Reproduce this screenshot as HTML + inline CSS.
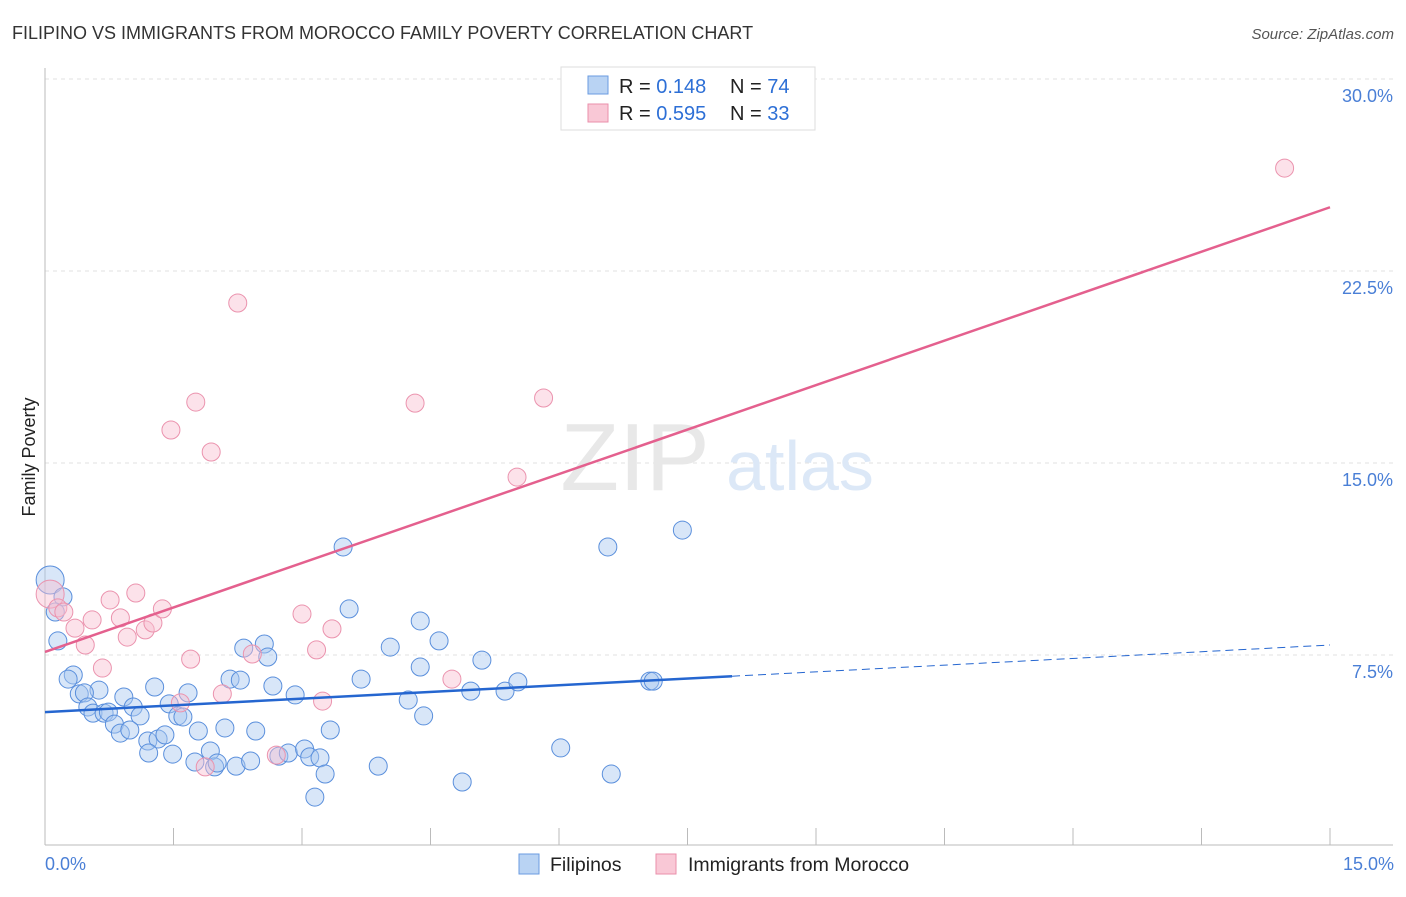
<!DOCTYPE html>
<html><head><meta charset="utf-8"><style>
body{margin:0;background:#fff;font-family:"Liberation Sans",sans-serif}
svg text{font-family:"Liberation Sans",sans-serif}
</style></head><body>
<svg width="1406" height="892" viewBox="0 0 1406 892" xmlns="http://www.w3.org/2000/svg">
<text x="12" y="39" font-size="18" fill="#333">FILIPINO VS IMMIGRANTS FROM MOROCCO FAMILY POVERTY CORRELATION CHART</text>
<text x="1394" y="39" font-size="15" fill="#555" font-style="italic" text-anchor="end">Source: ZipAtlas.com</text>
<g id="grid"></g>
<text x="635" y="490" font-size="96" fill="#e8e8e8" font-family="Liberation Serif" text-anchor="middle">ZIP</text>
<text x="800" y="490" font-size="70" fill="#dce8f7" text-anchor="middle">atlas</text>
<g id="marks"></g>
<text x="35" y="457" font-size="18" fill="#222" text-anchor="middle" transform="rotate(-90 35 457)">Family Poverty</text>
<text x="45" y="870" font-size="18" fill="#4a7fd6">0.0%</text>
<text x="1394" y="870" font-size="18" fill="#4a7fd6" text-anchor="end">15.0%</text>
<g>
<rect x="561" y="67" width="254" height="63" fill="#fff" stroke="#ddd"/>
<rect x="588" y="76" width="20" height="18" fill="#b9d3f3" stroke="#6a9be0"/>
<rect x="588" y="104" width="20" height="18" fill="#f9c8d6" stroke="#ea8fab"/>
<text x="619" y="93" font-size="20" fill="#222">R = <tspan fill="#2d6fd6">0.148</tspan><tspan x="730">N = </tspan><tspan fill="#2d6fd6">74</tspan></text>
<text x="619" y="120" font-size="20" fill="#222">R = <tspan fill="#2d6fd6">0.595</tspan><tspan x="730">N = </tspan><tspan fill="#2d6fd6">33</tspan></text>
</g>
<g>
<rect x="519" y="854" width="20" height="20" fill="#b9d3f3" stroke="#6a9be0"/>
<text x="550" y="871" font-size="19.5" fill="#222">Filipinos</text>
<rect x="656" y="854" width="20" height="20" fill="#f9c8d6" stroke="#ea8fab"/>
<text x="688" y="871" font-size="19.5" fill="#222">Immigrants from Morocco</text>
</g>
</svg>
<script>
const yTicks=[7.5,15,22.5,30];
const yTickLabels=["7.5%","15.0%","22.5%","30.0%"];
const xTicks=[0,1.5,3,4.5,6,7.5,9,10.5,12,13.5,15];
const blueX=[.06,.21,.12,.15,.33,.27,.63,.40,.46,.50,.56,.69,.74,.92,1.03,1.11,.81,.88,.99,1.20,1.32,1.40,1.21,1.49,1.28,1.45,1.55,1.61,1.67,1.79,1.75,1.93,1.98,2.01,2.10,2.23,2.40,2.46,2.16,2.28,2.32,2.56,2.60,2.66,2.92,2.73,2.84,3.03,3.09,3.21,3.27,3.15,3.33,3.48,3.55,3.69,3.89,4.03,4.24,4.38,4.38,4.42,4.60,4.87,4.97,5.10,5.37,5.52,6.02,6.57,6.61,7.06,7.10,7.44];
const blueY=[10.43,9.77,9.18,8.05,6.72,6.56,6.13,5.98,6.02,5.47,5.23,5.23,5.27,5.86,5.47,5.12,4.80,4.45,4.57,4.14,4.22,4.38,3.67,3.63,6.25,5.59,5.12,5.08,6.02,4.53,3.32,3.75,3.13,3.28,4.65,3.16,3.36,4.53,6.56,6.52,7.77,7.93,7.42,6.29,5.94,3.55,3.67,3.83,3.52,3.48,2.85,1.95,4.57,11.72,9.30,6.56,3.16,7.81,5.74,8.83,7.03,5.12,8.05,2.54,6.09,7.30,6.09,6.45,3.87,11.72,2.85,6.48,6.48,12.38];
const pinkX=[.06,.15,.22,.35,.47,.55,.67,.76,.88,.96,1.06,1.17,1.26,1.37,1.47,1.58,1.70,1.76,1.87,1.94,2.07,2.25,2.42,2.70,3.00,3.17,3.24,3.35,4.32,4.75,5.51,5.82,14.47];
const pinkY=[9.88,9.34,9.18,8.55,7.89,8.87,6.99,9.65,8.95,8.20,9.92,8.48,8.75,9.30,16.29,5.63,7.34,17.38,3.13,15.43,5.98,21.25,7.54,3.59,9.10,7.70,5.70,8.52,17.34,6.56,14.45,17.54,26.52];
const blueTrend=[5.27,7.89];
const pinkTrend=[7.62,24.99];
const blueSolidEnd=8.02;
const NS="http://www.w3.org/2000/svg";
const sx=v=>45+v/15*1285;
const sy=v=>847-v*25.6;
function mk(t,a,p){const e=document.createElementNS(NS,t);for(const k in a)e.setAttribute(k,a[k]);p.appendChild(e);return e;}
const grid=document.getElementById('grid');
yTicks.forEach((t,i)=>{
 const l=mk('line',{x1:45,x2:1393,y1:sy(t),y2:sy(t),stroke:'#e2e2e2','stroke-dasharray':'4,4'},grid);
 
 
 const tx=mk('text',{x:1393,y:sy(t)+23,'font-size':18,fill:'#4a7fd6','text-anchor':'end'},grid);
 tx.textContent=yTickLabels[i];
 
 
});
mk('line',{x1:45,x2:45,y1:68,y2:845,stroke:'#bbb'},grid);
mk('line',{x1:45,x2:1393,y1:845,y2:845,stroke:'#bbb'},grid);
xTicks.forEach(t=>{
 const l=mk('line',{x1:sx(t),x2:sx(t),y1:828,y2:845,stroke:'#bbb'},grid);
 
 
});
const g=document.getElementById('marks');
blueX.forEach((x,i)=>{
 const c=mk('circle',{cx:sx(x),cy:sy(blueY[i]),r:i==0?14:9,fill:'rgba(168,200,240,0.45)',stroke:'#5a8fdc','stroke-width':1},g);
 
 
});
pinkX.forEach((x,i)=>{
 const c=mk('circle',{cx:sx(x),cy:sy(pinkY[i]),r:i==0?14:9,fill:'rgba(248,190,208,0.45)',stroke:'#eb93ae','stroke-width':1},g);
 
 
});
const bAt=x=>blueTrend[0]+(blueTrend[1]-blueTrend[0])*x/15;
let l=mk('line',{x1:sx(0),y1:sy(bAt(0)),x2:sx(blueSolidEnd),y2:sy(bAt(blueSolidEnd)),stroke:'#2566d0','stroke-width':2.5},g);


l=mk('line',{x1:sx(blueSolidEnd),y1:sy(bAt(blueSolidEnd)),x2:sx(15),y2:sy(bAt(15)),stroke:'#2566d0','stroke-width':1,'stroke-dasharray':'8,5'},g);


l=mk('line',{x1:sx(0),y1:sy(pinkTrend[0]),x2:sx(15),y2:sy(pinkTrend[1]),stroke:'#e4608e','stroke-width':2.5},g);


</script>
</body></html>
